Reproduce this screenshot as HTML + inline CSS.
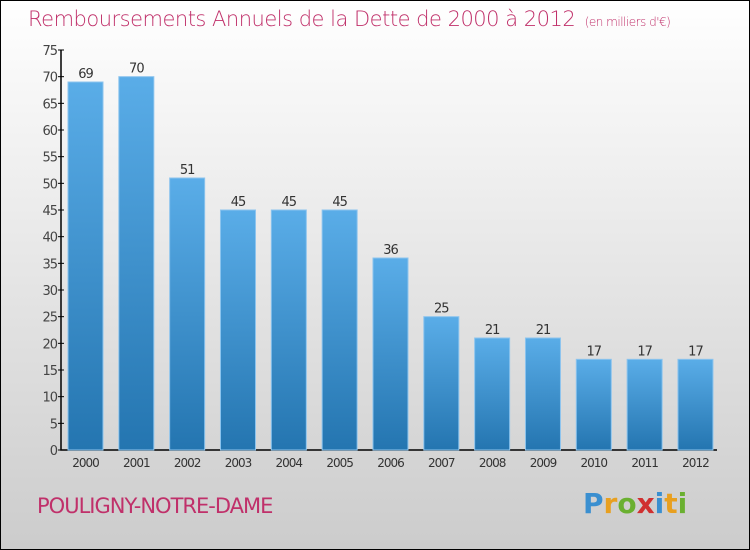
<!DOCTYPE html>
<html><head><meta charset="utf-8"><style>
body{margin:0}
#c{position:relative;width:748px;height:548px;border:1px solid #000;background:linear-gradient(#fff,#ccc);font-family:"DejaVu Sans","Liberation Sans",sans-serif;overflow:hidden}
.t{position:absolute;color:#c0306a}
</style></head><body>
<div id="c">
<div class="t" style="left:27px;top:6px;font-size:21px;font-weight:200;letter-spacing:-0.5px">Remboursements Annuels de la Dette de 2000 à 2012 <span style="font-size:12px">&nbsp;(en milliers d'€)</span></div>
<div class="t" style="left:36px;top:493px;font-size:21px;letter-spacing:-1px">POULIGNY-NOTRE-DAME</div>
<div style="position:absolute;left:582px;top:486px;font-size:28px;font-weight:bold;font-family:'DejaVu Sans',sans-serif"><span style="color:#3a8fd0">P</span><span style="color:#e8a020">r</span><span style="color:#6ab030">o</span><span style="color:#d03030">x</span><span style="color:#3a8fd0">i</span><span style="color:#e8a020">t</span><span style="color:#6ab030">i</span></div>
<svg id="s" width="748" height="548" style="position:absolute;left:0;top:0">
<defs><linearGradient id="g" x1="0" y1="0" x2="0" y2="1"><stop offset="0" stop-color="#5aade8"/><stop offset="1" stop-color="#2475b0"/></linearGradient></defs>
</svg>
</div>
<script>
const categories=["2000","2001","2002","2003","2004","2005","2006","2007","2008","2009","2010","2011","2012"];
const values=[69,70,51,45,45,45,36,25,21,21,17,17,17];
const yTicks=[0,5,10,15,20,25,30,35,40,45,50,55,60,65,70,75];
const s=document.getElementById('s'),NS='http://www.w3.org/2000/svg';
const y=v=>449-v*400/75, x=i=>67+i*50.83, bw=35;
function mk(t,a,txt){const e=document.createElementNS(NS,t);for(const k in a)e.setAttribute(k,a[k]);if(txt!=null)e.textContent=txt;s.appendChild(e);return e;}
let ax=mk('path',{d:'M60,49V449H716',stroke:'#000','stroke-width':1.5,fill:'none'});


yTicks.forEach(v=>{
 let l=mk('line',{x1:57,x2:63,y1:y(v),y2:y(v),stroke:'#000'});
 
 
 let t=mk('text',{x:56,y:y(v)+5,'text-anchor':'end','font-size':13,fill:'#444','letter-spacing':'-1'},v);
 
 
});
values.forEach((v,i)=>{
 let r=mk('rect',{x:x(i),y:y(v),width:bw,height:y(0)-y(v),fill:'url(#g)',stroke:'#8cc4ee','stroke-width':1});
 
 
 let t=mk('text',{x:x(i)+bw/2,y:y(v)-4,'text-anchor':'middle','font-size':13,fill:'#333','letter-spacing':'-1'},v);
 
 
 let c=mk('text',{x:x(i)+bw/2,y:466,'text-anchor':'middle','font-size':12,fill:'#333','letter-spacing':'-1'},categories[i]);
 
 
});
</script>
</body></html>
